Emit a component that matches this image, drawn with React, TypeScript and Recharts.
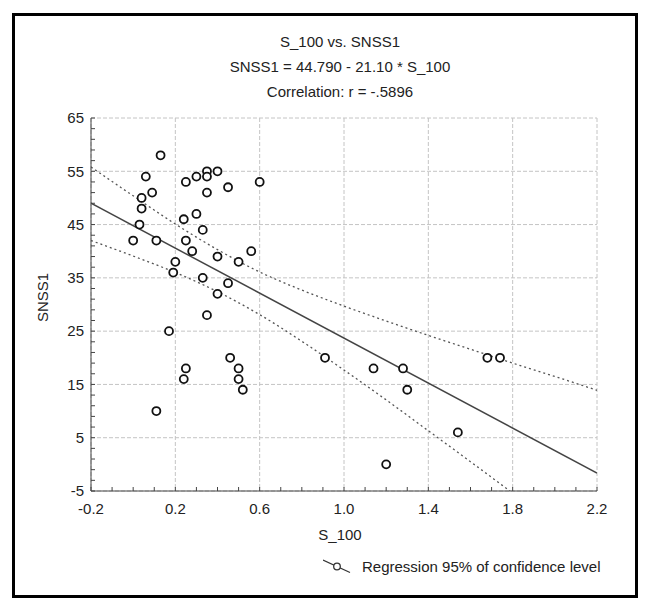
import React from "react";
import {
  ComposedChart,
  Scatter,
  Line,
  XAxis,
  YAxis,
  CartesianGrid,
  Legend,
} from "recharts";

const s100 = [
  0.13, 0.06, 0.09, 0.04, 0.04, 0.03, 0.0, 0.11,
  0.25, 0.3, 0.35, 0.35, 0.4, 0.35, 0.45, 0.6,
  0.3, 0.24, 0.33, 0.25, 0.28, 0.4, 0.56, 0.2,
  0.5, 0.19, 0.33, 0.45, 0.4, 0.35, 0.17,
  0.25, 0.24, 0.11, 0.46, 0.5, 0.5, 0.52, 0.91,
  1.14, 1.28, 1.3, 1.54, 1.2, 1.68, 1.74,
];
const snss1 = [
  58, 54, 51, 50, 48, 45, 42, 42,
  53, 54, 55, 54, 55, 51, 52, 53,
  47, 46, 44, 42, 40, 39, 40, 38,
  38, 36, 35, 34, 32, 28, 25,
  18, 16, 10, 20, 18, 16, 14, 20,
  18, 18, 14, 6, 0, 20, 20,
];

// regression line ends and 95% confidence band
const fitX = [-0.2, 2.2];
const fitY = [49.01, -1.63];
const bandX = [-0.2, 0.0, 0.2, 0.4, 0.6, 0.8, 1.0, 1.2, 1.4, 1.6, 1.8, 2.0, 2.2];
const upperBand = [55.8, 50.4, 45.1, 40.3, 36.1, 32.7, 29.7, 26.9, 24.2, 21.6, 19.0, 16.5, 13.9];
const lowerBand = [42.0, 39.1, 36.0, 32.4, 28.1, 23.1, 17.7, 12.1, 6.3, 0.5, -5.4, -11.3, -17.2];

const xTicks = [-0.2, 0.2, 0.6, 1.0, 1.4, 1.8, 2.2];
const yTicks = [-5, 5, 15, 25, 35, 45, 55, 65];
const xMinorTicks = [
  -0.2, -0.1, 0, 0.1, 0.2, 0.3, 0.4, 0.5, 0.6, 0.7, 0.8, 0.9, 1.0,
  1.1, 1.2, 1.3, 1.4, 1.5, 1.6, 1.7, 1.8, 1.9, 2.0, 2.1, 2.2,
];
const yMinorTicks = [
  -5, -3, -1, 1, 3, 5, 7, 9, 11, 13, 15, 17, 19, 21, 23, 25, 27, 29,
  31, 33, 35, 37, 39, 41, 43, 45, 47, 49, 51, 53, 55, 57, 59, 61, 63, 65,
];

const points = s100.map((x, i) => ({ x, y: snss1[i] }));
const bandData = bandX.map((x, i) => ({ x, upper: upperBand[i], lower: lowerBand[i] }));
const fitData = fitX.map((x, i) => ({ x, fit: fitY[i] }));

const FONT = '"Liberation Sans", Arial, sans-serif';
const AXIS = "#444";
const TEXT = "#222";

const Ring = (p: any) => (
  <circle cx={p.cx} cy={p.cy} r={4} fill="#fff" stroke="#111" strokeWidth={1.8} />
);

const XLabel = ({ viewBox }: any) => (
  <text x={viewBox.x + viewBox.width / 2 - 4} y={viewBox.y + 49} textAnchor="middle" fill={TEXT} fontSize={15}>
    S_100
  </text>
);

const YLabel = ({ viewBox }: any) => {
  const cx = viewBox.x + 40;
  const cy = viewBox.y + viewBox.height / 2 - 7;
  return (
    <text x={cx} y={cy} transform={`rotate(-90, ${cx}, ${cy})`} textAnchor="middle" fill={TEXT} fontSize={15}>
      SNSS1
    </text>
  );
};

const LegendBox = () => (
  <div style={{ position: "relative", height: 18, fontFamily: FONT, fontSize: 15, color: TEXT }}>
    <svg width={30} height={16} style={{ position: "absolute", left: 0, top: 1 }}>
      <line x1={0} y1={1} x2={27} y2={13.5} stroke="#333" strokeWidth={1.2} />
      <circle cx={14} cy={7.5} r={3.3} fill="#fff" stroke="#333" strokeWidth={1.3} />
    </svg>
    <span style={{ position: "absolute", left: 39, top: 0, lineHeight: "18px", whiteSpace: "nowrap" }}>
      Regression 95% of confidence level
    </span>
  </div>
);

export default function App() {
  return (
    <div style={{ position: "relative", width: 634, height: 594, fontFamily: FONT, color: TEXT }}>
      <div
        style={{
          position: "absolute",
          left: 4,
          top: 5,
          width: 626,
          height: 585,
          border: "3px solid #000",
          boxSizing: "border-box",
        }}
      />
      <div
        style={{
          position: "absolute",
          left: 132,
          top: 21,
          width: 400,
          textAlign: "center",
          fontSize: 15,
          lineHeight: "25px",
        }}
      >
        <div>S_100 vs. SNSS1</div>
        <div>SNSS1 = 44.790 - 21.10 * S_100</div>
        <div>Correlation: r = -.5896</div>
      </div>
      <div style={{ position: "absolute", left: 0, top: 0 }}>
        <ComposedChart
          width={634}
          height={594}
          margin={{ top: 110, right: 45, bottom: 59, left: 0 }}
          style={{ fontFamily: FONT }}
        >
          <CartesianGrid
            stroke="#c4c4c4"
            strokeDasharray="4 2"
            verticalValues={xTicks}
            horizontalValues={yTicks}
          />
          <XAxis
            dataKey="x"
            type="number"
            domain={[-0.2, 2.2]}
            ticks={xMinorTicks}
            interval={0}
            allowDataOverflow
            height={52}
            tickSize={-4}
            tickMargin={16}
            tickFormatter={(v: number) => (xTicks.includes(v) ? v.toFixed(1) : "")}
            tick={{ fill: TEXT, fontSize: 15 }}
            axisLine={{ stroke: AXIS }}
            tickLine={{ stroke: AXIS }}
            label={XLabel}
          />
          <XAxis
            xAxisId="top"
            orientation="top"
            type="number"
            domain={[-0.2, 2.2]}
            ticks={xMinorTicks}
            interval={0}
            allowDataOverflow
            height={0}
            tickSize={-4}
            tick={false}
            axisLine={{ stroke: AXIS }}
            tickLine={{ stroke: AXIS }}
          />
          <YAxis
            type="number"
            domain={[-5, 65]}
            ticks={yMinorTicks}
            interval={0}
            allowDataOverflow
            width={83}
            tickSize={-4}
            tickMargin={11}
            tickFormatter={(v: number) => (yTicks.includes(v) ? String(v) : "")}
            tick={{ fill: TEXT, fontSize: 15 }}
            axisLine={{ stroke: AXIS }}
            tickLine={{ stroke: AXIS }}
            label={YLabel}
          />
          <YAxis
            yAxisId="right"
            orientation="right"
            type="number"
            domain={[-5, 65]}
            ticks={yMinorTicks}
            interval={0}
            allowDataOverflow
            width={0}
            tickSize={-4}
            tick={false}
            axisLine={{ stroke: AXIS }}
            tickLine={{ stroke: AXIS }}
          />
          <Line
            data={bandData}
            dataKey="upper"
            type="monotone"
            stroke="#555"
            strokeWidth={1.3}
            strokeDasharray="2 3"
            dot={false}
            isAnimationActive={false}
          />
          <Line
            data={bandData}
            dataKey="lower"
            type="monotone"
            stroke="#555"
            strokeWidth={1.3}
            strokeDasharray="2 3"
            dot={false}
            isAnimationActive={false}
          />
          <Line
            data={fitData}
            dataKey="fit"
            type="linear"
            stroke="#444"
            strokeWidth={1.5}
            dot={false}
            isAnimationActive={false}
          />
          <Scatter data={points} dataKey="y" shape={Ring} isAnimationActive={false} />
          <Legend
            layout="horizontal"
            verticalAlign="middle"
            align="center"
            wrapperStyle={{ left: 315, top: 550, width: 300, height: 18 }}
            content={LegendBox}
          />
        </ComposedChart>
      </div>
    </div>
  );
}
